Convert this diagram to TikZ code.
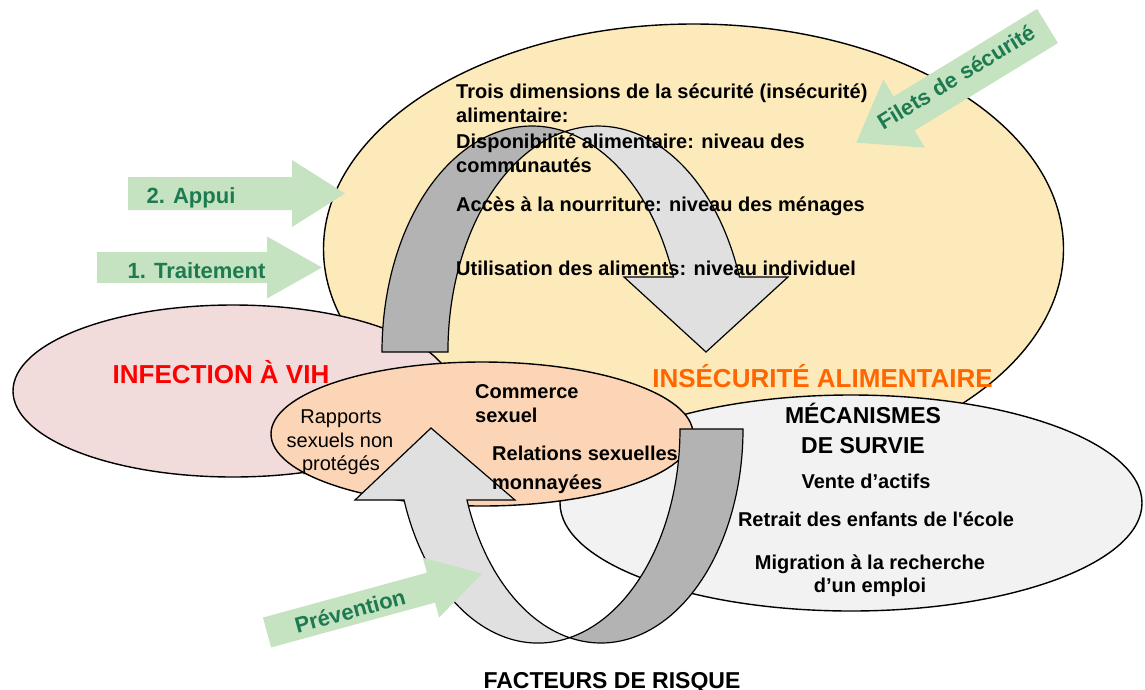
\documentclass[tikz,border=0pt]{standalone}
\usepackage{fontspec}
\setmainfont{Liberation Sans}[Ligatures=TeXOff]
\usetikzlibrary{shapes.geometric}
\definecolor{yel}{RGB}{253,234,187}
\definecolor{pnk}{RGB}{242,220,219}
\definecolor{org}{RGB}{251,213,181}
\definecolor{gry}{RGB}{242,242,242}
\definecolor{rdark}{RGB}{179,179,179}
\definecolor{rlight}{RGB}{224,224,224}
\definecolor{garrow}{RGB}{197,227,193}
\definecolor{gtext}{RGB}{30,122,80}
\definecolor{otext}{RGB}{255,102,0}
\newcommand{\greenarrow}[7]{%
  \begin{scope}[shift={(#1,#2)}, rotate=#3]
    \fill[garrow] (0,-#5/2) -- (#4-#7,-#5/2) -- (#4-#7,-#6/2) -- (#4,0)
      -- (#4-#7,#6/2) -- (#4-#7,#5/2) -- (0,#5/2) -- cycle;
  \end{scope}}
\begin{document}
\begin{tikzpicture}[x=1pt,y=-1pt,
  blob/.style={ellipse, draw=black, line width=1.4pt, inner sep=0pt, outer sep=0pt},
  ribbon/.style={draw=black, line width=1.2pt, line join=miter},
  bt/.style={font=\fontsize{20}{24}\selectfont\bfseries, inner sep=0pt},
  rt/.style={font=\fontsize{20}{24}\selectfont, inner sep=0pt},
  hd/.style={font=\fontsize{26}{30}\selectfont\bfseries, inner sep=0pt},
  hdd/.style={font=\fontsize{23}{27}\selectfont\bfseries, inner sep=0pt},
  gtxt/.style={font=\fontsize{22}{26}\selectfont\bfseries, text=gtext, inner sep=0pt}]
\useasboundingbox (0,0) rectangle (1145,689);

% ellipses
\node[blob, fill=yel, minimum width=740pt, minimum height=450pt] (food) at (693.5,249) {};
\node[blob, fill=pnk, minimum width=440pt, minimum height=172pt] (hivell) at (233,391) {};
\node[blob, fill=gry, minimum width=582pt, minimum height=216pt] (cope) at (851,503) {};
\node[blob, fill=org, minimum width=422pt, minimum height=144pt] (sex) at (482,434) {};

% top curved arrow
\draw[ribbon, fill=rdark] (382,352)
  arc[start angle=180, end angle=77.3, x radius=150pt, y radius=226pt]
  arc[start angle=102.7, end angle=180, x radius=150pt, y radius=226pt] -- cycle;
\draw[ribbon, fill=rlight] (565,131.6)
  arc[start angle=102.7, end angle=19.4, x radius=150pt, y radius=226pt]
  -- (788,277) -- (706,352) -- (624,277) -- (673.5,277)
  arc[start angle=19.4, end angle=77.3, x radius=150pt, y radius=226pt] -- cycle;

% bottom curved arrow, light part
\draw[ribbon, fill=rlight] (569.5,637.7)
  arc[start angle=-77.18, end angle=-160.62, x radius=142pt, y radius=214pt]
  -- (355,500) -- (431,428) -- (515,500) -- (467,500)
  arc[start angle=199.38, end angle=257.18, x radius=142pt, y radius=214pt] -- cycle;

% texts
\node[bt, anchor=base west] (l1) at (456,98.5) {Trois dimensions de la sécurité (insécurité)};
\node[bt, anchor=base west] (l2) at (456,122) {alimentaire:};
\node[bt, anchor=base west] (l3) at (456,148.5) {Disponibilité alimentaire: niveau des};
\node[bt, anchor=base west] (l4) at (456,172) {communautés};
\node[bt, anchor=base west] (l5) at (456,211.5) {Accès à la nourriture: niveau des ménages};
\node[bt, anchor=base west] (l6) at (456,275) {Utilisation des aliments: niveau individuel};

\node[hd, text=red, anchor=base] (hiv) at (221,383) {INFECTION À VIH};
\node[hd, text=otext, anchor=base] (fi) at (822.5,387) {INSÉCURITÉ ALIMENTAIRE};
\node[hdd, anchor=base] (m1) at (863,423) {MÉCANISMES};
\node[hdd, anchor=base] (m2) at (863,453) {DE SURVIE};
\node[bt, anchor=base] (v1) at (866,488) {Vente d’actifs};
\node[bt, anchor=base] (v2) at (876,526) {Retrait des enfants de l'école};
\node[bt, anchor=base] (v3) at (870,569) {Migration à la recherche};
\node[bt, anchor=base] (v4) at (870,592) {d’un emploi};

\node[rt, anchor=base] (r1) at (341,423) {Rapports};
\node[rt, anchor=base] (r2) at (340,447) {sexuels non};
\node[rt, anchor=base] (r3) at (341,470) {protégés};
\node[bt, anchor=base west] (c1) at (475,398) {Commerce};
\node[bt, anchor=base west] (c2) at (475,422) {sexuel};
\node[bt, anchor=base west] (s1) at (492,460) {Relations sexuelles};
\node[bt, anchor=base west] (s2) at (492,489) {monnayées};
\node[hdd, anchor=base] (risk) at (612,688) {FACTEURS DE RISQUE};

% bottom curved arrow, dark part
\draw[ribbon, fill=rdark] (680,429) -- (743,429)
  arc[start angle=0, end angle=-102.82, x radius=142pt, y radius=214pt]
  arc[start angle=-77.18, end angle=0, x radius=142pt, y radius=214pt] -- cycle;

% green arrows
\greenarrow{128}{193.5}{0}{217}{33}{67}{53}
\greenarrow{97}{267.5}{0}{225}{31}{62}{55}
\greenarrow{267}{632.5}{15.3}{223}{31}{62}{53}
\greenarrow{1047.5}{26}{211.4}{224}{40}{80}{56}

\node[gtxt, anchor=base] (appui) at (191,203) {2. Appui};
\node[gtxt, anchor=base] (trait) at (196.5,278) {1. Traitement};
\node[gtxt, rotate=15.3] (prev) at (350,611) {Prévention};
\node[gtxt, rotate=31.4] (filets) at (956,77) {Filets de sécurité};
\end{tikzpicture}
\end{document}
